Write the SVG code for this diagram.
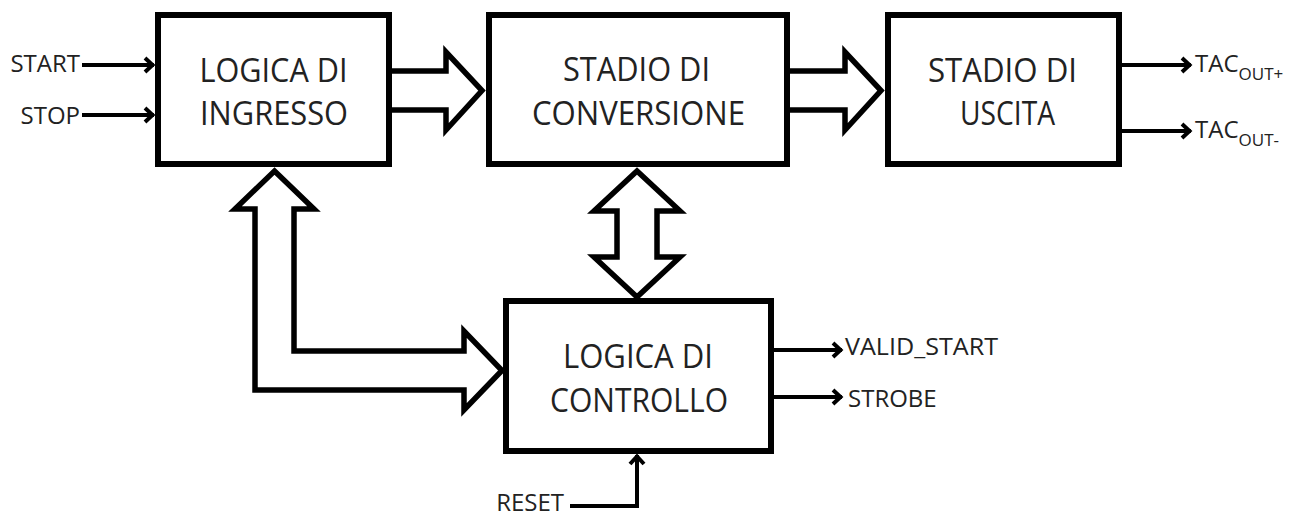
<svg xmlns="http://www.w3.org/2000/svg" width="1292" height="518" viewBox="0 0 1292 518">
  <defs>
    <marker id="tip" markerUnits="userSpaceOnUse" viewBox="-14 -10 16 20" markerWidth="16" markerHeight="20" refX="0" refY="0" orient="auto">
      <path d="M-9,-7 L-1.5,0 L-9,7" fill="none" stroke="#000" stroke-width="4" stroke-linejoin="miter"/>
    </marker>
    <style>
      .box { fill: #fff; stroke: #000; stroke-width: 6; }
      .bus { fill: #fff; stroke: #000; stroke-width: 5.5; stroke-linejoin: miter; }
      .wire { fill: none; stroke: #000; stroke-width: 4; marker-end: url(#tip); }
      .big { font-family: "Open Sans", "Noto Sans", sans-serif; font-size: 32px; fill: #222; text-anchor: middle; }
      .lbl { font-family: "Open Sans", "Noto Sans", sans-serif; font-size: 24px; fill: #222; }
      .sub { font-size: 17px; }
    </style>
  </defs>
  <rect width="1292" height="518" fill="#fff"/>

  <!-- connectors: wide bus arrows and signal wires -->
  <g id="connectors">
    <polygon class="bus" points="389,71 446,71 446,52 482,90.5 446,130 446,110 389,110"/>
    <polygon class="bus" points="787,71 845,71 845,52 881,90.5 845,130 845,110 787,110"/>
    <polygon class="bus" points="274.5,171 314,209 294,209 294,351 464,351 464,331 502,370.5 464,410 464,390 255,390 255,209 235,209"/>
    <polygon class="bus" points="637,171 680,211 657,211 657,257 680,257 637,297 594,257 617,257 617,211 594,211"/>

    <line class="wire" x1="82" y1="65" x2="154" y2="65"/>
    <line class="wire" x1="82" y1="115" x2="154" y2="115"/>
    <line class="wire" x1="1122" y1="65" x2="1191" y2="65"/>
    <line class="wire" x1="1122" y1="131" x2="1191" y2="131"/>
    <line class="wire" x1="774" y1="350" x2="842" y2="350"/>
    <line class="wire" x1="774" y1="397" x2="842" y2="397"/>
    <path class="wire" d="M570,506 L637,506 L637,455"/>
  </g>

  <!-- blocks -->
  <g id="logica-ingresso">
    <rect class="box" x="158" y="15" width="231" height="149"/>
    <text class="big" x="273.5" y="82" textLength="148" lengthAdjust="spacingAndGlyphs">LOGICA DI</text>
    <text class="big" x="274" y="125" textLength="148" lengthAdjust="spacingAndGlyphs">INGRESSO</text>
  </g>
  <g id="stadio-conversione">
    <rect class="box" x="489" y="15" width="298" height="149"/>
    <text class="big" x="636.5" y="81" textLength="147" lengthAdjust="spacingAndGlyphs">STADIO DI</text>
    <text class="big" x="638.5" y="125" textLength="213" lengthAdjust="spacingAndGlyphs">CONVERSIONE</text>
  </g>
  <g id="stadio-uscita">
    <rect class="box" x="888" y="15" width="231" height="149"/>
    <text class="big" x="1002.5" y="82" textLength="149" lengthAdjust="spacingAndGlyphs">STADIO DI</text>
    <text class="big" x="1007.5" y="125" textLength="95" lengthAdjust="spacingAndGlyphs">USCITA</text>
  </g>
  <g id="logica-controllo">
    <rect class="box" x="506" y="301" width="265" height="150"/>
    <text class="big" x="638" y="368" textLength="150" lengthAdjust="spacingAndGlyphs">LOGICA DI</text>
    <text class="big" x="639" y="412" textLength="178" lengthAdjust="spacingAndGlyphs">CONTROLLO</text>
  </g>

  <!-- signal names -->
  <g id="signals">
    <text class="lbl" x="80" y="72" text-anchor="end">START</text>
    <text class="lbl" x="80" y="124" text-anchor="end">STOP</text>
    <text class="lbl" x="1195" y="72">TAC<tspan class="sub" dy="8">OUT+</tspan></text>
    <text class="lbl" x="1195" y="138">TAC<tspan class="sub" dy="8">OUT-</tspan></text>
    <text class="lbl" x="845" y="355" textLength="153" lengthAdjust="spacingAndGlyphs">VALID_START</text>
    <text class="lbl" x="848" y="407">STROBE</text>
    <text class="lbl" x="564" y="511" text-anchor="end">RESET</text>
  </g>
</svg>
